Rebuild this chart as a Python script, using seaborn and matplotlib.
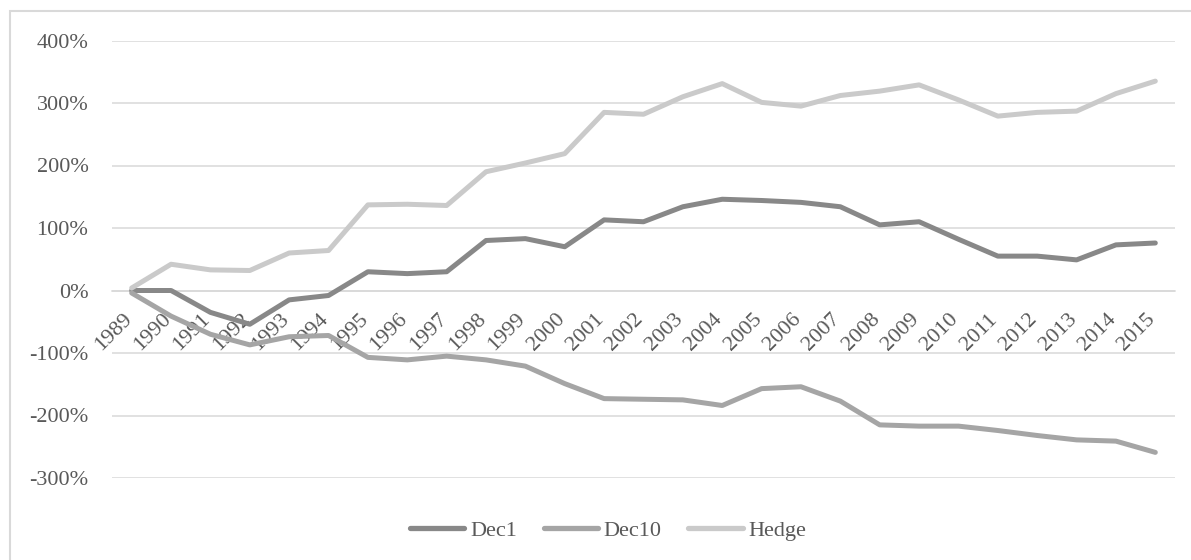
import matplotlib
matplotlib.use("Agg")
import matplotlib.pyplot as plt
import matplotlib.transforms as mtransforms
from matplotlib.patches import Rectangle
from matplotlib.ticker import FuncFormatter
import numpy as np
import pandas as pd
import seaborn as sns

# Cumulative returns (%) by year
years = [str(y) for y in range(1989, 2016)]
dec1 = [0, 0, -35, -54, -15, -8, 30, 27, 30, 80, 83, 70, 113, 110, 134, 146,
        144, 141, 134, 105, 110, 82, 55, 55, 49, 73, 76]
dec10 = [-4, -41, -70, -87, -74, -72, -107, -111, -105, -111, -121, -149, -173,
         -174, -175, -184, -157, -154, -177, -215, -217, -217, -224, -232, -239,
         -241, -259]
hedge = [4, 42, 33, 32, 60, 64, 137, 138, 136, 190, 204, 219, 285, 282, 310,
         331, 301, 295, 312, 319, 329, 305, 279, 285, 287, 315, 335]
series_names = ["Dec1", "Dec10", "Hedge"]
colors = ["#888888", "#a5a5a5", "#cacaca"]

frames = []
for name, vals in zip(series_names, [dec1, dec10, hedge]):
    frames.append(pd.DataFrame({"idx": np.arange(len(years)), "value": vals,
                                "series": name}))
df = pd.concat(frames, ignore_index=True)

sns.set_style("white")
plt.rcParams["font.family"] = ["Liberation Serif", "DejaVu Serif"]
text_color = "#595959"
grid_color = "#d9d9d9"

W, H = 1191, 560
fig = plt.figure(figsize=(W / 100, H / 100), dpi=100)
ax = fig.add_axes([112 / W, 1 - 478 / H, (1175 - 112) / W, (478 - 40.5) / H])

sns.lineplot(data=df, x="idx", y="value", hue="series", hue_order=series_names,
             palette=colors, linewidth=3.6, ax=ax, legend=True,
             solid_capstyle="round", solid_joinstyle="round")

# Category axis sits on the 0% line
for side in ["left", "right", "top"]:
    ax.spines[side].set_visible(False)
ax.spines["bottom"].set_position(("data", 0))
ax.spines["bottom"].set_color(grid_color)
ax.spines["bottom"].set_linewidth(1.1)
ax.spines["bottom"].set_zorder(0.5)

ax.set_xlim(-0.5, len(years) - 0.5)
ax.set_ylim(-300, 400)
ax.set_yticks(range(-300, 401, 100))
ax.yaxis.set_major_formatter(FuncFormatter(lambda v, p: f"{int(v)}%"))
ax.set_xticks(range(len(years)))
ax.set_xticklabels(years)
ax.set_xlabel("")
ax.set_ylabel("")

ax.grid(axis="y", color=grid_color, linewidth=1.1)
ax.grid(axis="x", visible=False)
ax.set_axisbelow(True)

ax.tick_params(axis="both", length=0, labelsize=16, labelcolor=text_color)
ax.tick_params(axis="y", pad=17)
ax.tick_params(axis="x", pad=14, labelrotation=45)
offset = mtransforms.ScaledTranslation(4 / 100, 0, fig.dpi_scale_trans)
for lab in ax.get_xticklabels():
    lab.set_horizontalalignment("right")
    lab.set_verticalalignment("top")
    lab.set_transform(lab.get_transform() + offset)

handles, labels = ax.get_legend_handles_labels()
leg = ax.legend(handles, labels, loc="center", ncol=3, frameon=False,
                bbox_to_anchor=(608 / W, 1 - 530.7 / H),
                bbox_transform=fig.transFigure, fontsize=16,
                handlelength=2.45, handletextpad=0.25, columnspacing=1.2)
for t in leg.get_texts():
    t.set_color(text_color)
for h in leg.get_lines():
    h.set_linewidth(3.8)
    h.set_solid_capstyle("round")

# Chart area border
fig.patches.append(Rectangle((10 / W, -0.1), 1.2, 1 - 11 / H + 0.1,
                             transform=fig.transFigure, fill=False,
                             edgecolor=grid_color, linewidth=1.5))

fig.savefig("out.png", dpi=100, facecolor="white")
